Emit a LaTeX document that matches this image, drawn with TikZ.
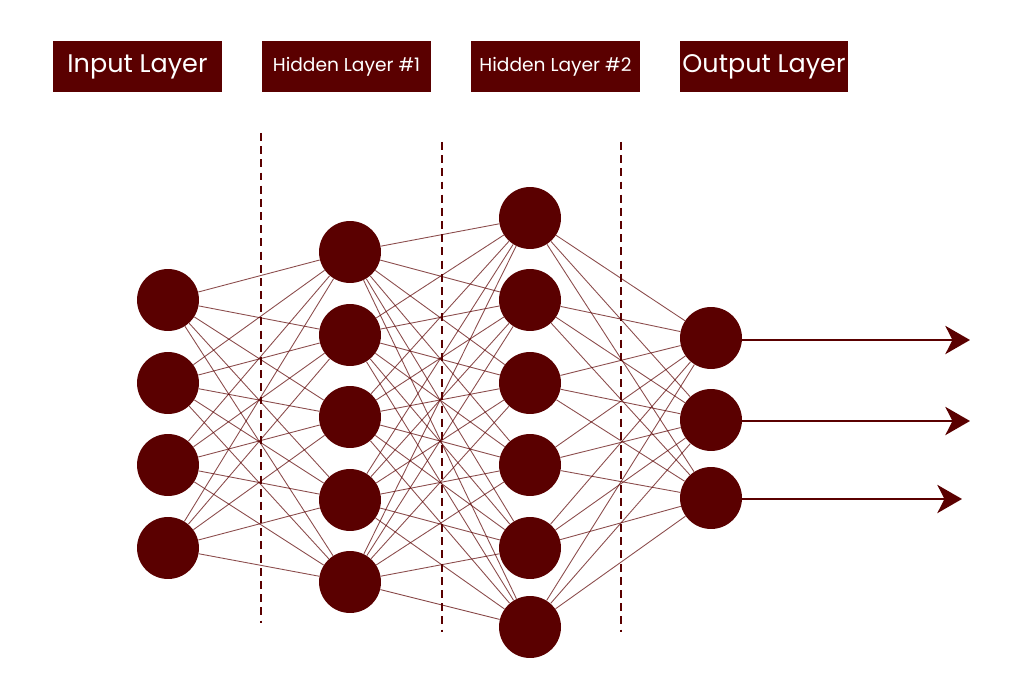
\documentclass[tikz,border=0pt]{standalone}
\usepackage{fontspec}
\setmainfont{Poppins}
\usetikzlibrary{arrows.meta}
\definecolor{maroon}{RGB}{90,0,0}
\tikzset{
  neuron/.style={circle, fill=maroon, inner sep=0pt, minimum size=1.24cm},
  layerbox/.style={fill=maroon, text=white, minimum width=3.38cm, minimum height=1.02cm, inner sep=0pt},
  link/.style={draw=maroon, opacity=0.7, line width=0.5pt},
  divider/.style={draw=maroon, line width=1.1pt, dash pattern=on 4.5pt off 3pt},
  outarrow/.style={draw=maroon, line width=1.6pt, -{Stealth[length=14pt, width=16pt, inset=4pt]}}
}
\begin{document}
\begin{tikzpicture}[x=0.02cm, y=-0.02cm, line cap=butt, line join=round]
  \useasboundingbox (0,0) rectangle (1024,699);
  % Titles above the four columns.
  \node[layerbox, font=\fontsize{14.5}{16}\selectfont] (tin)  at (137.5,66.5) {\raisebox{-0.15ex}{Input Layer}};
  \node[layerbox, font=\fontsize{10.6}{12}\selectfont] (th1)  at (346.5,66.5) {\raisebox{-0.2ex}{Hidden Layer \#1}};
  \node[layerbox, font=\fontsize{10.6}{12}\selectfont] (th2)  at (555.5,66.5) {\raisebox{-0.2ex}{Hidden Layer \#2}};
  \node[layerbox, font=\fontsize{14.5}{16}\selectfont] (tout) at (764,66.5)   {\raisebox{-0.15ex}{Output Layer}};
  % Dashed separators between the layers.
  \coordinate (d1a) at (261,133); \coordinate (d1b) at (261,623);
  \coordinate (d2a) at (442,142); \coordinate (d2b) at (442,632);
  \coordinate (d3a) at (621,142); \coordinate (d3b) at (621,632);
  \draw[divider] (d1a) -- (d1b);
  \draw[divider] (d2a) -- (d2b);
  \draw[divider] (d3a) -- (d3b);
  % Input layer, 4 neurons.
  \node[neuron] (i1) at (168,300) {};
  \node[neuron] (i2) at (168,383) {};
  \node[neuron] (i3) at (168,465) {};
  \node[neuron] (i4) at (168,548) {};
  % Hidden layer #1, 5 neurons.
  \node[neuron] (a1) at (350,252) {};
  \node[neuron] (a2) at (350,335) {};
  \node[neuron] (a3) at (350,417) {};
  \node[neuron] (a4) at (350,500) {};
  \node[neuron] (a5) at (350,582) {};
  % Hidden layer #2, 6 neurons.
  \node[neuron] (b1) at (530,218) {};
  \node[neuron] (b2) at (530,300) {};
  \node[neuron] (b3) at (530,383) {};
  \node[neuron] (b4) at (530,465) {};
  \node[neuron] (b5) at (530,548) {};
  \node[neuron] (b6) at (530,627) {};
  % Output layer, 3 neurons.
  \node[neuron] (o1) at (711,338) {};
  \node[neuron] (o2) at (711,420) {};
  \node[neuron] (o3) at (711,498) {};
  % Weights: every neuron to every neuron of the next layer.
  \foreach \p in {1,...,4}
    \foreach \q in {1,...,5}
      \draw[link] (i\p) -- (a\q);
  \foreach \p in {1,...,5}
    \foreach \q in {1,...,6}
      \draw[link] (a\p) -- (b\q);
  \foreach \p in {1,...,6}
    \foreach \q in {1,...,3}
      \draw[link] (b\p) -- (o\q);
  % Outputs leaving to the right.
  \coordinate (y1) at (970,340);
  \coordinate (y2) at (970,421);
  \coordinate (y3) at (962,499);
  \draw[outarrow] (o1.east |- y1) -- (y1);
  \draw[outarrow] (o2.east |- y2) -- (y2);
  \draw[outarrow] (o3.east |- y3) -- (y3);
\end{tikzpicture}
\end{document}
